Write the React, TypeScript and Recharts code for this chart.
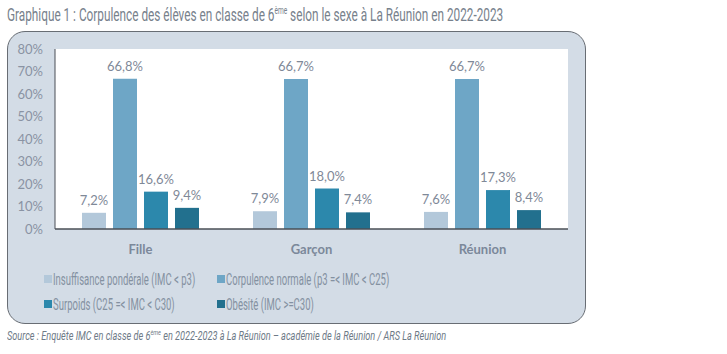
import { BarChart, Bar, XAxis, YAxis, CartesianGrid, LabelList } from "recharts";

const categories = ["Fille", "Garçon", "Réunion"];
const insuffisance = [7.2, 7.9, 7.6];
const normale = [66.8, 66.7, 66.7];
const surpoids = [16.6, 18.0, 17.3];
const obesite = [9.4, 7.4, 8.4];
const yTicks = [0, 10, 20, 30, 40, 50, 60, 70, 80];

const series = [
  { key: "insuffisance", name: "Insuffisance pondérale (IMC < p3)", color: "#b3c8da" },
  { key: "normale", name: "Corpulence normale (p3 =< IMC < C25)", color: "#6ea6c6" },
  { key: "surpoids", name: "Surpoids (C25 =< IMC < C30)", color: "#2c88ac" },
  { key: "obesite", name: "Obésité (IMC >=C30)", color: "#22708e" },
];

const data = categories.map((name, i) => ({
  name,
  insuffisance: insuffisance[i],
  normale: normale[i],
  surpoids: surpoids[i],
  obesite: obesite[i],
}));

const fmt = (v: any) => `${Number(v).toFixed(1).replace(".", ",")}%`;
const chartFont = "Lato, 'Noto Sans', sans-serif";
const narrowFont = "Roboto, sans-serif";

export default function App() {
  return (
    <div style={{ position: "absolute", left: 0, top: 0, width: 727, height: 354, background: "#fff", overflow: "hidden" }}>
      <div style={{ position: "absolute", left: 7, top: 4, fontFamily: narrowFont, fontSize: 18, color: "#77818c", whiteSpace: "nowrap", transform: "scaleX(0.655)", transformOrigin: "left top" }}>
        Graphique 1 : Corpulence des élèves en classe de 6<sup style={{ fontSize: 10 }}>ème</sup> selon le sexe à La Réunion en 2022-2023
      </div>
      <div style={{ position: "absolute", left: 7, top: 31, width: 577, height: 291, background: "#d3dce6", border: "1.5px solid #686d74", borderRadius: 18 }} />
      <div style={{ position: "absolute", left: 0, top: 0 }}>
        <BarChart width={727} height={262} data={data} margin={{ top: 49, right: 159, left: 0, bottom: 0 }} barGap={7} barCategoryGap="16%">
          <CartesianGrid horizontal={false} vertical={false} fill="#ffffff" stroke="none" />
          <XAxis dataKey="name" height={33} axisLine={{ stroke: "#4a4f56", strokeWidth: 1.5 }} tickLine={false} tickMargin={10}
            tick={{ fill: "#7b889a", fontSize: 13, fontWeight: 700, fontFamily: chartFont }} />
          <YAxis width={55} domain={[0, 80]} ticks={yTicks} interval={0} tickFormatter={(v) => `${v}%`}
            axisLine={{ stroke: "#4a4f56", strokeWidth: 1 }} tickLine={false} tickSize={0} tickMargin={12}
            tick={{ fill: "#8a93a3", fontSize: 13, fontFamily: chartFont }} />
          {series.map((s) => (
            <Bar key={s.key} dataKey={s.key} name={s.name} fill={s.color} barSize={24} isAnimationActive={false}>
              <LabelList dataKey={s.key} position="top" offset={8} formatter={fmt}
                style={{ fill: "#7f8998", fontSize: 13, fontFamily: chartFont }} />
            </Bar>
          ))}
        </BarChart>
      </div>
      <div style={{ position: "absolute", left: 44, top: 269, width: 520, display: "grid", gridTemplateColumns: "173px 1fr", rowGap: 6, fontFamily: narrowFont, fontSize: 17, color: "#8491a1" }}>
        {series.map((s) => (
          <div key={s.key} style={{ display: "flex", alignItems: "center", height: 19, whiteSpace: "nowrap" }}>
            <span style={{ display: "inline-block", flexShrink: 0, width: 8, height: 8, background: s.color, marginRight: 1 }} />
            <span style={{ display: "inline-block", transform: "scaleX(0.56)", transformOrigin: "left center" }}>{s.name}</span>
          </div>
        ))}
      </div>
      <div style={{ position: "absolute", left: 7, top: 328, fontFamily: narrowFont, fontStyle: "italic", fontSize: 13, color: "#6e7a87", whiteSpace: "nowrap", transform: "scaleX(0.704)", transformOrigin: "left top" }}>
        Source : Enquête IMC en classe de 6<sup style={{ fontSize: 8 }}>ème</sup> en 2022-2023 à La Réunion – académie de la Réunion / ARS La Réunion
      </div>
    </div>
  );
}
